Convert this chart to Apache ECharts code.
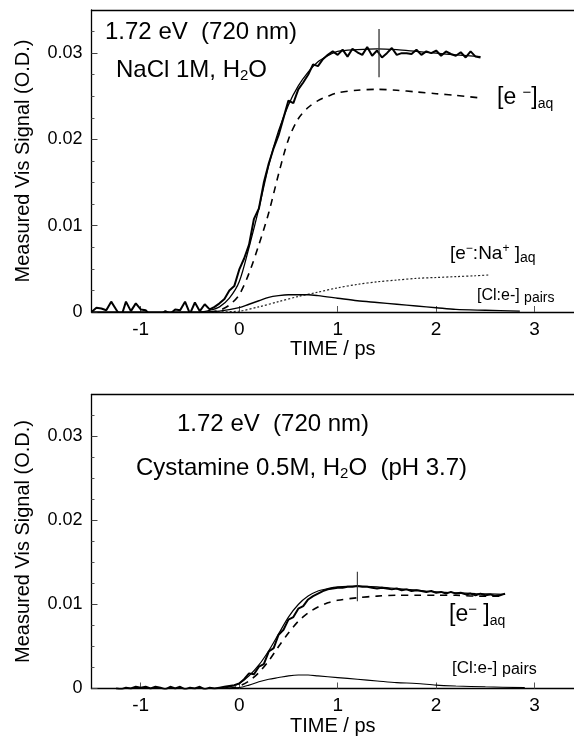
<!DOCTYPE html>
<html>
<head>
<meta charset="utf-8">
<script src="https://cdn.jsdelivr.net/npm/echarts@6/dist/echarts.min.js"></script>
<style>
html,body{margin:0;padding:0;background:#fff;}
#c{width:574px;height:738px;}
</style>
</head>
<body>
<div id="c"></div>
<script>
// ---------- axis ticks ----------
const xTickValues = [-1, 0, 1, 2, 3];
const yTickValues = [0, 0.01, 0.02, 0.03];
const yMinorValues = [0.0025, 0.005, 0.0075, 0.0125, 0.015, 0.0175, 0.0225, 0.025, 0.0275, 0.0325];

// ---------- TOP PANEL (NaCl 1M) ----------
const topDataT = [-1.5,-1.45,-1.4,-1.35,-1.3,-1.25,-1.2,-1.15,-1.1,-1.05,-1.0,-0.95,-0.9,-0.85,-0.8,-0.75,-0.7,-0.65,-0.6,-0.55,-0.5,-0.45,-0.4,-0.35,-0.3,-0.25,-0.2,-0.15,-0.1,-0.05,0.0,0.05,0.1,0.15,0.2,0.25,0.3,0.35,0.4,0.45,0.5,0.55,0.6,0.65,0.7,0.75,0.8,0.85,0.9,0.95,1.0,1.05,1.1,1.15,1.2,1.25,1.3,1.35,1.4,1.45,1.5,1.55,1.6,1.65,1.7,1.75,1.8,1.85,1.9,1.95,2.0,2.05,2.1,2.15,2.2,2.25,2.3,2.35,2.4,2.45];
const topDataV = [0.0000,0.0005,0.0004,0.0002,0.0012,0.0003,-0.0006,0.0012,0.0001,0.0010,0.0003,0.0002,-0.0004,-0.0001,-0.0003,0.0001,-0.0002,0.0003,0.0002,0.0012,-0.0002,0.0011,0.0001,0.0009,0.0003,0.0006,0.0010,0.0015,0.0025,0.0030,0.0049,0.0062,0.0078,0.0108,0.0120,0.0150,0.0172,0.0190,0.0205,0.0225,0.0245,0.0242,0.0258,0.0266,0.0275,0.0287,0.0285,0.0293,0.0298,0.0302,0.0298,0.0304,0.0296,0.0305,0.0301,0.0298,0.0307,0.0297,0.0303,0.0295,0.0300,0.0306,0.0298,0.0300,0.0300,0.0299,0.0304,0.0298,0.0302,0.0300,0.0303,0.0297,0.0302,0.0299,0.0297,0.0301,0.0295,0.0302,0.0296,0.0295];

const topFitT = [-1.5,-0.4,-0.3,-0.2,-0.1,0,0.1,0.2,0.3,0.4,0.5,0.6,0.7,0.8,0.9,1.0,1.2,1.4,1.6,1.8,2.0,2.2,2.45];
const topFitV = [0,0,0.0002,0.0006,0.0016,0.0035,0.0075,0.0120,0.0170,0.0210,0.0240,0.0262,0.0278,0.0290,0.0297,0.0302,0.0304,0.0305,0.0304,0.0302,0.0300,0.0298,0.0296];

const topEaqT = [-0.3,-0.2,-0.1,0,0.1,0.2,0.3,0.4,0.5,0.6,0.7,0.8,0.9,1.0,1.2,1.4,1.6,1.8,2.0,2.2,2.45];
const topEaqV = [0,0.0002,0.0008,0.0020,0.0045,0.0078,0.0115,0.0160,0.0200,0.0224,0.0237,0.0245,0.0250,0.0254,0.0257,0.0258,0.0257,0.0255,0.0253,0.0251,0.0248];

const topNaT = [-0.3,0,0.2,0.4,0.6,0.8,1.0,1.2,1.4,1.6,1.8,2.0,2.2,2.4,2.55];
const topNaV = [0,0.0001,0.0006,0.0012,0.0018,0.0023,0.0028,0.0032,0.0035,0.0037,0.0039,0.0040,0.0041,0.0042,0.0043];

const topClT = [-0.4,-0.2,0,0.1,0.2,0.3,0.4,0.5,0.6,0.7,0.8,1.0,1.2,1.4,1.6,1.8,2.0,2.2,2.5,2.85];
const topClV = [0,0.0001,0.0005,0.0009,0.0013,0.0017,0.0019,0.0020,0.0020,0.0020,0.0019,0.0016,0.0013,0.0011,0.0009,0.0007,0.0005,0.0003,0.0002,0.0001];

const topErrT = [1.42, 1.42];
const topErrV = [0.0272, 0.0328];

// ---------- BOTTOM PANEL (Cystamine 0.5M) ----------
const botDataT = [-1.25,-1.2,-1.15,-1.1,-1.05,-1.0,-0.95,-0.9,-0.85,-0.8,-0.75,-0.7,-0.65,-0.6,-0.55,-0.5,-0.45,-0.4,-0.35,-0.3,-0.25,-0.2,-0.15,-0.1,-0.05,0.0,0.05,0.1,0.15,0.2,0.25,0.3,0.35,0.4,0.45,0.5,0.55,0.6,0.65,0.7,0.75,0.8,0.85,0.9,0.95,1.0,1.05,1.1,1.15,1.2,1.25,1.3,1.35,1.4,1.45,1.5,1.55,1.6,1.65,1.7,1.75,1.8,1.85,1.9,1.95,2.0,2.05,2.1,2.15,2.2,2.25,2.3,2.35,2.4,2.45,2.5,2.55,2.6,2.65,2.7];
const botDataV = [0.0000,-0.0001,0.0001,0.0000,0.0002,0.0001,0.0002,0.0000,0.0002,0.0001,-0.0001,0.0002,0.0000,0.0002,-0.0001,0.0001,0.0000,0.0002,-0.0001,0.0001,0.0000,0.0001,0.0002,0.0003,0.0004,0.0006,0.0011,0.0018,0.0017,0.0026,0.0029,0.0044,0.0048,0.0064,0.0070,0.0082,0.0085,0.0095,0.0098,0.0106,0.0110,0.0113,0.0116,0.0118,0.0119,0.0120,0.0120,0.0121,0.0121,0.0122,0.0121,0.0121,0.0120,0.0119,0.0120,0.0119,0.0118,0.0119,0.0117,0.0118,0.0116,0.0117,0.0116,0.0115,0.0116,0.0114,0.0115,0.0113,0.0115,0.0113,0.0114,0.0112,0.0113,0.0111,0.0113,0.0111,0.0112,0.0110,0.0111,0.0113];

const botFitT = [-1.3,-0.2,-0.1,0,0.1,0.2,0.3,0.4,0.5,0.6,0.7,0.8,0.9,1.0,1.2,1.4,1.6,1.8,2.0,2.2,2.4,2.7];
const botFitV = [0,0,0.0002,0.0006,0.0015,0.0028,0.0045,0.0065,0.0085,0.0100,0.0110,0.0116,0.0119,0.0121,0.0122,0.0121,0.0119,0.0117,0.0115,0.0114,0.0113,0.0112];

const botEaqT = [-0.1,0,0.1,0.2,0.3,0.4,0.5,0.6,0.7,0.8,0.9,1.0,1.2,1.4,1.6,1.8,2.0,2.2,2.4,2.7];
const botEaqV = [0,0.0003,0.0009,0.0019,0.0033,0.0050,0.0066,0.0080,0.0090,0.0097,0.0102,0.0105,0.0108,0.0110,0.0111,0.0111,0.0111,0.0111,0.0110,0.0110];

const botClT = [-0.2,0,0.1,0.2,0.3,0.4,0.5,0.6,0.7,0.8,1.0,1.2,1.4,1.6,1.8,2.0,2.2,2.5,2.9];
const botClV = [0,0.0001,0.0004,0.0008,0.0011,0.0013,0.0015,0.0016,0.0016,0.0015,0.0013,0.0011,0.0009,0.0007,0.0006,0.0004,0.0003,0.0002,0.0001];

const botErrT = [1.2, 1.2];
const botErrV = [0.0104, 0.0139];

// ---------- chart ----------
const FONT = '"Liberation Sans", Arial, Helvetica, sans-serif';
const GRID_LEFT = 91.5;
const GRID_W = 574 - GRID_LEFT;
const pairs = (t, v) => t.map((x, i) => [x, v[i]]);

function xAxes(gi) {
  return [
    {
      gridIndex: gi, type: 'value', min: -1.5, max: 3.4, position: 'bottom',
      name: 'TIME / ps', nameLocation: 'middle', nameGap: 26,
      nameTextStyle: {fontFamily: FONT, fontSize: 20, color: '#000'},
      axisLine: {show: true, onZero: false, lineStyle: {color: '#000', width: 1.3}},
      axisTick: {show: true, inside: true, length: 6, customValues: xTickValues, lineStyle: {color: '#555'}},
      axisLabel: {show: true, customValues: xTickValues, margin: 8, fontFamily: FONT, fontSize: 19, color: '#000'},
      splitLine: {show: false}
    },
    {
      gridIndex: gi, type: 'value', min: -1.5, max: 3.4, position: 'top',
      axisLine: {show: true, onZero: false, lineStyle: {color: '#000', width: 1.3}},
      axisTick: {show: false}, axisLabel: {show: false}, splitLine: {show: false}
    }
  ];
}
function yAxes(gi) {
  return [
    {
      gridIndex: gi, type: 'value', min: 0, max: 0.035, position: 'left',
      name: 'Measured Vis Signal (O.D.)', nameLocation: 'middle', nameGap: 58,
      nameTextStyle: {fontFamily: FONT, fontSize: 20, color: '#000'},
      axisLine: {show: true, onZero: false, lineStyle: {color: '#000', width: 1.3}},
      axisTick: {show: true, inside: true, length: 6, customValues: yTickValues, lineStyle: {color: '#444'}},
      axisLabel: {show: true, customValues: yTickValues, margin: 9, fontFamily: FONT, fontSize: 18, color: '#000',
        formatter: v => (v === 0 ? '0' : v.toFixed(2))},
      splitLine: {show: false}
    },
    {
      // minor ticks: placed on the right and shifted back onto the left border
      gridIndex: gi, type: 'value', min: 0, max: 0.035, position: 'right', offset: -GRID_W,
      axisLine: {show: false, onZero: false},
      axisTick: {show: true, inside: false, length: 3, customValues: yMinorValues, lineStyle: {color: '#555'}},
      axisLabel: {show: false}, splitLine: {show: false}
    }
  ];
}

function lineSeries(xi, yi, data, style, smooth) {
  return {
    type: 'line', xAxisIndex: xi, yAxisIndex: yi, data: data,
    showSymbol: false, symbol: 'none', smooth: smooth || false, silent: true, z: 3,
    lineStyle: style
  };
}

const black = '#000';
const series = [
  // top panel
  lineSeries(0, 0, pairs(topDataT, topDataV), {color: black, width: 2}),
  lineSeries(0, 0, pairs(topFitT, topFitV), {color: black, width: 1.3}, 0.3),
  lineSeries(0, 0, pairs(topEaqT, topEaqV), {color: black, width: 1.6, type: [7, 6]}, 0.3),
  lineSeries(0, 0, pairs(topNaT, topNaV), {color: '#222', width: 1.2, type: [2, 2]}, 0.3),
  lineSeries(0, 0, pairs(topClT, topClV), {color: black, width: 1.4}, 0.3),
  lineSeries(0, 0, pairs(topErrT, topErrV), {color: '#333', width: 1.3}),
  // bottom panel
  lineSeries(2, 2, pairs(botDataT, botDataV), {color: black, width: 2}),
  lineSeries(2, 2, pairs(botFitT, botFitV), {color: black, width: 1.2}, 0.3),
  lineSeries(2, 2, pairs(botEaqT, botEaqV), {color: black, width: 1.6, type: [7, 6]}, 0.3),
  lineSeries(2, 2, pairs(botClT, botClV), {color: black, width: 1.1}, 0.3),
  lineSeries(2, 2, pairs(botErrT, botErrV), {color: '#333', width: 1.1})
];

const rich = {
  b24: {fontFamily: FONT, fontSize: 24, color: '#000', lineHeight: 26},
  s24: {fontFamily: FONT, fontSize: 15, color: '#000', lineHeight: 13, verticalAlign: 'bottom'},
  b23: {fontFamily: FONT, fontSize: 23, color: '#000', lineHeight: 26},
  p23: {fontFamily: FONT, fontSize: 15, color: '#000', lineHeight: 15, verticalAlign: 'top'},
  sq23: {fontFamily: FONT, fontSize: 14, color: '#000', lineHeight: 12, verticalAlign: 'bottom'},
  b19: {fontFamily: FONT, fontSize: 19, color: '#000', lineHeight: 22},
  p19: {fontFamily: FONT, fontSize: 12, color: '#000', lineHeight: 12, verticalAlign: 'top'},
  sq19: {fontFamily: FONT, fontSize: 14, color: '#000', lineHeight: 12, verticalAlign: 'bottom'},
  b16: {fontFamily: FONT, fontSize: 16, color: '#000', lineHeight: 18},
  sq16: {fontFamily: FONT, fontSize: 14, color: '#000', lineHeight: 14, verticalAlign: 'bottom'},
  b17: {fontFamily: FONT, fontSize: 17, color: '#000', lineHeight: 19},
  sq17: {fontFamily: FONT, fontSize: 16, color: '#000', lineHeight: 15, verticalAlign: 'bottom'}
};

function txt(x, y, text) {
  return {type: 'text', x: x, y: y, silent: true, z: 10,
    style: {text: text, rich: rich, align: 'left', verticalAlign: 'middle', fill: '#000'}};
}

const graphic = [
  txt(105, 32, '{b24|1.72 eV  (720 nm)}'),
  txt(116, 70, '{b24|NaCl 1M, H}{s24|2}{b24|O}'),
  txt(497, 98, '{b23|[e }{p23|−}{b23|]}{sq23|aq}'),
  txt(450, 254, '{b19|[e}{p19|−}{b19|:Na}{p19|+}{b19| ]}{sq19|aq}'),
  txt(477, 296, '{b16|[Cl:e-] }{sq16|pairs}'),
  txt(177, 424, '{b24|1.72 eV  (720 nm)}'),
  txt(136, 468, '{b24|Cystamine 0.5M, H}{s24|2}{b24|O  (pH 3.7)}'),
  txt(449, 615, '{b23|[e}{p23|−}{b23| ]}{sq23|aq}'),
  txt(452, 668, '{b17|[Cl:e-] }{sq17|pairs}')
];

const chart = echarts.init(document.getElementById('c'), null, {renderer: 'canvas'});
chart.setOption({
  animation: false,
  backgroundColor: '#fff',
  grid: [
    {left: GRID_LEFT, top: 10, right: 0, height: 302, containLabel: false},
    {left: GRID_LEFT, top: 394.5, right: 0, height: 294, containLabel: false}
  ],
  xAxis: xAxes(0).concat(xAxes(1)),
  yAxis: yAxes(0).concat(yAxes(1)),
  series: series,
  graphic: graphic
});
</script>
</body>
</html>
